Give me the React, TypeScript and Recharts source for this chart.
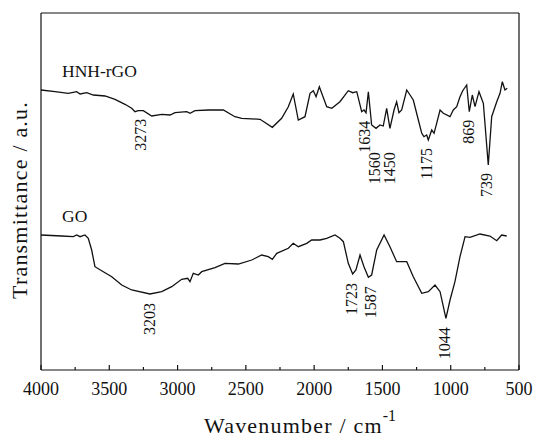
import React from "react";
import { LineChart, Line, XAxis, YAxis, ReferenceDot, Label } from "recharts";

// FTIR spectra: [wavenumber cm-1, transmittance a.u.]
const hnhSpectrum: [number, number][] = [
  [4000, 280], [3897, 278.3], [3800, 276.7], [3739, 278.3], [3714, 276], [3665, 277.3],
  [3617, 275], [3531, 274], [3458, 270.7], [3385, 265.7], [3336, 261.7], [3312, 258.3],
  [3288, 259.3], [3251, 259.3], [3189, 254], [3116, 255.7], [3055, 255], [3019, 257.3],
  [2933, 258.3], [2909, 256.7], [2872, 259.3], [2775, 260], [2665, 260], [2580, 253.3],
  [2530, 251.7], [2396, 250.7], [2306, 242.7], [2238, 251.7], [2190, 263], [2153, 276],
  [2116, 250], [2067, 253.3], [2030, 276.7], [2006, 279.3], [1986, 273.3], [1962, 283.3],
  [1908, 263.3], [1871, 261.7], [1811, 268.3], [1750, 279.3], [1718, 277.3], [1688, 278.3],
  [1652, 258.3], [1635, 260], [1620, 257.3], [1603, 278.3], [1579, 245], [1547, 241.7],
  [1518, 245], [1494, 244], [1469, 261.7], [1445, 241.7], [1415, 260], [1396, 268.3],
  [1379, 257.3], [1359, 260], [1322, 280], [1274, 270], [1237, 250], [1212, 236.7],
  [1196, 233.3], [1176, 235], [1164, 230], [1139, 240], [1122, 236.7], [1103, 246.7],
  [1078, 260], [1054, 256.7], [1005, 253.3], [981, 260], [956, 263.3], [932, 273.3],
  [912, 279.3], [883, 285], [864, 258.3], [842, 275], [822, 263.3], [793, 278.3],
  [761, 266.7], [725, 205], [700, 253.3], [663, 268.3], [639, 276.7], [622, 288.3],
  [603, 280], [586, 281.7],
];

const goSpectrum: [number, number][] = [
  [4000, 135], [3848, 134], [3763, 133.3], [3739, 135], [3714, 133.3], [3678, 135],
  [3654, 131.7], [3629, 120], [3605, 103.3], [3556, 99.3], [3482, 93.3], [3409, 85],
  [3336, 80], [3202, 76], [3116, 78.3], [3043, 83.3], [2970, 90.7], [2926, 91.7],
  [2909, 88.3], [2885, 96.7], [2848, 95], [2823, 98.3], [2726, 102.3], [2653, 106.7],
  [2555, 106], [2457, 110], [2384, 115], [2336, 113.3], [2306, 110.7], [2274, 116.7],
  [2189, 121.7], [2153, 126.7], [2116, 123.3], [2054, 126.7], [2018, 130], [1957, 130],
  [1908, 131.7], [1847, 135], [1811, 131.7], [1786, 128.3], [1750, 106.7], [1718, 96],
  [1694, 100], [1664, 115], [1635, 103.3], [1603, 92.7], [1579, 95], [1542, 120],
  [1488, 135], [1445, 123.3], [1396, 108.3], [1359, 108.3], [1322, 108.3], [1274, 93.3],
  [1212, 76.7], [1164, 78.3], [1115, 85], [1078, 78.3], [1035, 51.7], [1005, 70],
  [969, 88.3], [932, 113.3], [895, 133.3], [859, 132.7], [786, 136], [713, 134],
  [663, 129.3], [627, 135], [590, 134],
];

const hnhPeaks = [3273, 1634, 1560, 1450, 1175, 869, 739];
const goPeaks = [3203, 1723, 1587, 1044];

const xTicks = [4000, 3750, 3500, 3250, 3000, 2750, 2500, 2250, 2000, 1750, 1500, 1250, 1000, 750, 500];

const FONT = "Liberation Serif, DejaVu Serif, serif";
const INK = "#111";
const txt = { fontFamily: FONT };

const toRows = (s: [number, number][]) => s.map(([wn, t]) => ({ wn, t }));

// lowest point of the trace near a labelled band
const dipAt = (s: [number, number][], wn: number) => {
  let best = Infinity;
  for (const [w, t] of s) if (Math.abs(w - wn) <= 25 && t < best) best = t;
  return best;
};

const droppedLabels = [1560, 1450];

const XTick = ({ x, y, payload }: any) => {
  const major = payload.value % 500 === 0;
  return (
    <g>
      <line x1={x} x2={x} y1={y} y2={y - (major ? 5 : 3)} stroke={INK} strokeWidth={1.2} />
      {major && (
        <text x={x} y={y + 25} textAnchor="middle" style={txt} fontSize={18} fill={INK}>
          {payload.value}
        </text>
      )}
    </g>
  );
};

const peakLabel = (text: number, gap: number) => (p: any) => {
  const ty = p.cy + gap;
  return (
    <text
      x={p.cx}
      y={ty}
      transform={`rotate(-90 ${p.cx} ${ty})`}
      textAnchor="end"
      dominantBaseline="central"
      style={txt}
      fontSize={16}
      fill={INK}
    >
      {text}
    </text>
  );
};

const nameLabel = (text: string) => (p: any) => (
  <text x={p.cx} y={p.cy - 13} style={txt} fontSize={17.5} fill={INK}>
    {text}
  </text>
);

const XTitle = () => (
  <text x={300} y={433} textAnchor="middle" style={txt} fontSize={22} letterSpacing={1.2} fill={INK}>
    <tspan>Wavenumber / cm</tspan>
    <tspan dy={-12} fontSize={16} letterSpacing={0}>-1</tspan>
  </text>
);

const YTitle = () => (
  <text
    x={27}
    y={200}
    transform="rotate(-90 27 200)"
    textAnchor="middle"
    style={txt}
    fontSize={22}
    letterSpacing={1.2}
    fill={INK}
  >
    Transmittance / a.u.
  </text>
);

const frame = { stroke: INK, strokeWidth: 1.2 };

export default function App() {
  const hnhRows = toRows(hnhSpectrum);
  const goRows = toRows(goSpectrum);

  return (
    <div style={{ position: "absolute", left: 0, top: 0, background: "#fff" }}>
      <LineChart width={535} height={438} margin={{ top: 12, right: 15, bottom: 0, left: 40 }}>
        <XAxis
          dataKey="wn"
          type="number"
          domain={[500, 4000]}
          reversed
          allowDataOverflow
          ticks={xTicks}
          interval={0}
          tickLine={false}
          tickSize={0}
          tickMargin={0}
          tick={<XTick />}
          axisLine={frame}
          height={68}
        >
          <Label content={<XTitle />} />
        </XAxis>
        <XAxis
          xAxisId="top"
          orientation="top"
          type="number"
          domain={[500, 4000]}
          reversed
          ticks={[]}
          tick={false}
          tickLine={false}
          axisLine={frame}
          height={1}
        />
        <YAxis
          type="number"
          domain={[0, 357]}
          ticks={[]}
          tick={false}
          tickLine={false}
          axisLine={frame}
          width={1}
        >
          <Label content={<YTitle />} />
        </YAxis>
        <YAxis
          yAxisId="right"
          orientation="right"
          type="number"
          domain={[0, 357]}
          ticks={[]}
          tick={false}
          tickLine={false}
          axisLine={frame}
          width={1}
        />

        <Line data={hnhRows} dataKey="t" type="linear" stroke={INK} strokeWidth={1.3} dot={false} isAnimationActive={false} />
        <Line data={goRows} dataKey="t" type="linear" stroke={INK} strokeWidth={1.3} dot={false} isAnimationActive={false} />

        <ReferenceDot x={3846} y={hnhSpectrum[0][1]} r={1} shape={nameLabel("HNH-rGO")} />
        <ReferenceDot x={3846} y={goSpectrum[0][1]} r={1} shape={nameLabel("GO")} />

        {hnhPeaks.map((wn) => (
          <ReferenceDot
            key={`h${wn}`}
            x={wn}
            y={dipAt(hnhSpectrum, wn)}
            r={1}
            shape={peakLabel(wn, droppedLabels.includes(wn) ? 24 : 8)}
          />
        ))}
        {goPeaks.map((wn) => (
          <ReferenceDot key={`g${wn}`} x={wn} y={dipAt(goSpectrum, wn)} r={1} shape={peakLabel(wn, 9)} />
        ))}
      </LineChart>
    </div>
  );
}
